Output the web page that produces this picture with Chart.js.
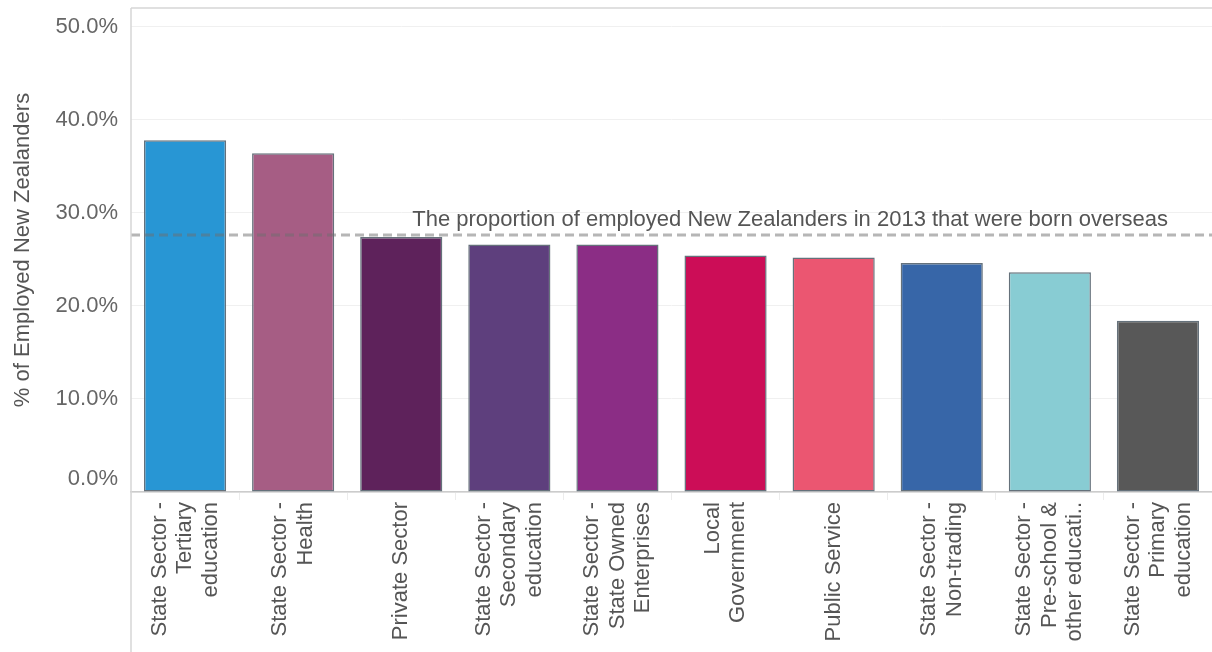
<!DOCTYPE html>
<html>
<head>
<meta charset="utf-8">
<script src="https://cdn.jsdelivr.net/npm/chart.js@4.4.1/dist/chart.umd.min.js"></script>
<style>
  html, body { margin: 0; padding: 0; background: #fff; }
  #wrap { width: 1212px; height: 652px; }
</style>
</head>
<body>
<div id="wrap"><canvas id="sectorChart"></canvas></div>
<script>
const sectors = [
  ['State Sector -', 'Tertiary', 'education'],
  ['State Sector -', 'Health'],
  ['Private Sector'],
  ['State Sector -', 'Secondary', 'education'],
  ['State Sector -', 'State Owned', 'Enterprises'],
  ['Local', 'Government'],
  ['Public Service'],
  ['State Sector -', 'Non-trading'],
  ['State Sector -', 'Pre-school &', 'other educati..'],
  ['State Sector -', 'Primary', 'education']
];
const bornOverseas = [37.8, 36.4, 27.4, 26.6, 26.6, 25.4, 25.2, 24.6, 23.6, 18.4];
const barColors = ['#2896d4', '#a65d84', '#5e225b', '#5e3f7d', '#8b2d85',
                   '#cc0d57', '#eb5671', '#3766a8', '#88ccd3', '#585858'];
const nationalShare = 27.6;
const nationalLabel = 'The proportion of employed New Zealanders in 2013 that were born overseas';
const yTicks = [0, 10, 20, 30, 40, 50];

const FONT = '"Liberation Sans", Arial, sans-serif';
const FONT_SIZE = 22;

// frame, reference line and the rotated category labels
const overlay = {
  id: 'overlay',
  afterDatasetsDraw(chart) {
    const { ctx, chartArea, scales } = chart;
    const y = scales.y.getPixelForValue(nationalShare);
    ctx.save();
    ctx.strokeStyle = 'rgba(110,110,110,0.5)';
    ctx.lineWidth = 3;
    ctx.setLineDash([9, 5]);
    ctx.beginPath();
    ctx.moveTo(chartArea.left, y);
    ctx.lineTo(chartArea.right, y);
    ctx.stroke();
    ctx.setLineDash([]);

    ctx.fillStyle = '#555';
    ctx.font = FONT_SIZE + 'px ' + FONT;
    ctx.textAlign = 'right';
    ctx.textBaseline = 'alphabetic';
    ctx.fillText(nationalLabel, chartArea.right - 44, y - 9);
    ctx.restore();
  },
  afterDraw(chart) {
    const { ctx, chartArea, scales } = chart;
    ctx.save();
    ctx.strokeStyle = '#d6d6d6';
    ctx.lineWidth = 1.5;
    ctx.beginPath();
    ctx.moveTo(chartArea.left, chartArea.top);
    ctx.lineTo(chartArea.right, chartArea.top);
    ctx.moveTo(chartArea.left, chartArea.top);
    ctx.lineTo(chartArea.left, chart.height);
    ctx.stroke();

    ctx.fillStyle = '#555';
    ctx.font = FONT_SIZE + 'px ' + FONT;
    ctx.textAlign = 'right';
    ctx.textBaseline = 'middle';
    const lh = 25.5;
    sectors.forEach((lines, i) => {
      const x = scales.x.getPixelForValue(i);
      lines.forEach((line, j) => {
        ctx.save();
        ctx.translate(x + (j - (lines.length - 1) / 2) * lh, chartArea.bottom + 10);
        ctx.rotate(-Math.PI / 2);
        ctx.fillText(line, 0, 0);
        ctx.restore();
      });
    });
    ctx.restore();
  }
};

new Chart(document.getElementById('sectorChart'), {
  type: 'bar',
  data: {
    labels: sectors.map(s => s.join(' ')),
    datasets: [{
      data: bornOverseas,
      backgroundColor: barColors,
      borderColor: '#65717b',
      borderWidth: 1.5,
      borderSkipped: false,
      barPercentage: 0.76,
      categoryPercentage: 1
    }]
  },
  options: {
    responsive: true,
    maintainAspectRatio: false,
    animation: false,
    layout: { padding: { top: 8, right: 0, left: 0, bottom: 0 } },
    plugins: { legend: { display: false }, tooltip: { enabled: false } },
    scales: {
      x: {
        border: { display: true, color: '#cccccc', width: 1.5 },
        grid: { drawOnChartArea: false, drawTicks: true, tickLength: 8, color: '#ececec', offset: true },
        ticks: { display: false },
        afterFit(scale) { scale.height = 160; }
      },
      y: {
        min: 0,
        max: 52,
        border: { display: false },
        grid: { color: '#f0f0f0', lineWidth: 1, drawTicks: false },
        ticks: {
          stepSize: 10,
          includeBounds: false,
          padding: 13,
          color: '#666',
          font: { family: FONT, size: FONT_SIZE },
          // the zero label sits just above the axis line
          callback: v => !yTicks.includes(v) ? '' : (v === 0 ? ['0.0%', ''] : v.toFixed(1) + '%')
        },
        title: {
          display: true,
          text: '% of Employed New Zealanders',
          color: '#555',
          font: { family: FONT, size: FONT_SIZE },
          padding: { top: 10, bottom: 0 }
        },
        afterFit(scale) {
          scale.width = 131;
          scale.paddingTop = 0;
        }
      }
    }
  },
  plugins: [overlay]
});
</script>
</body>
</html>
